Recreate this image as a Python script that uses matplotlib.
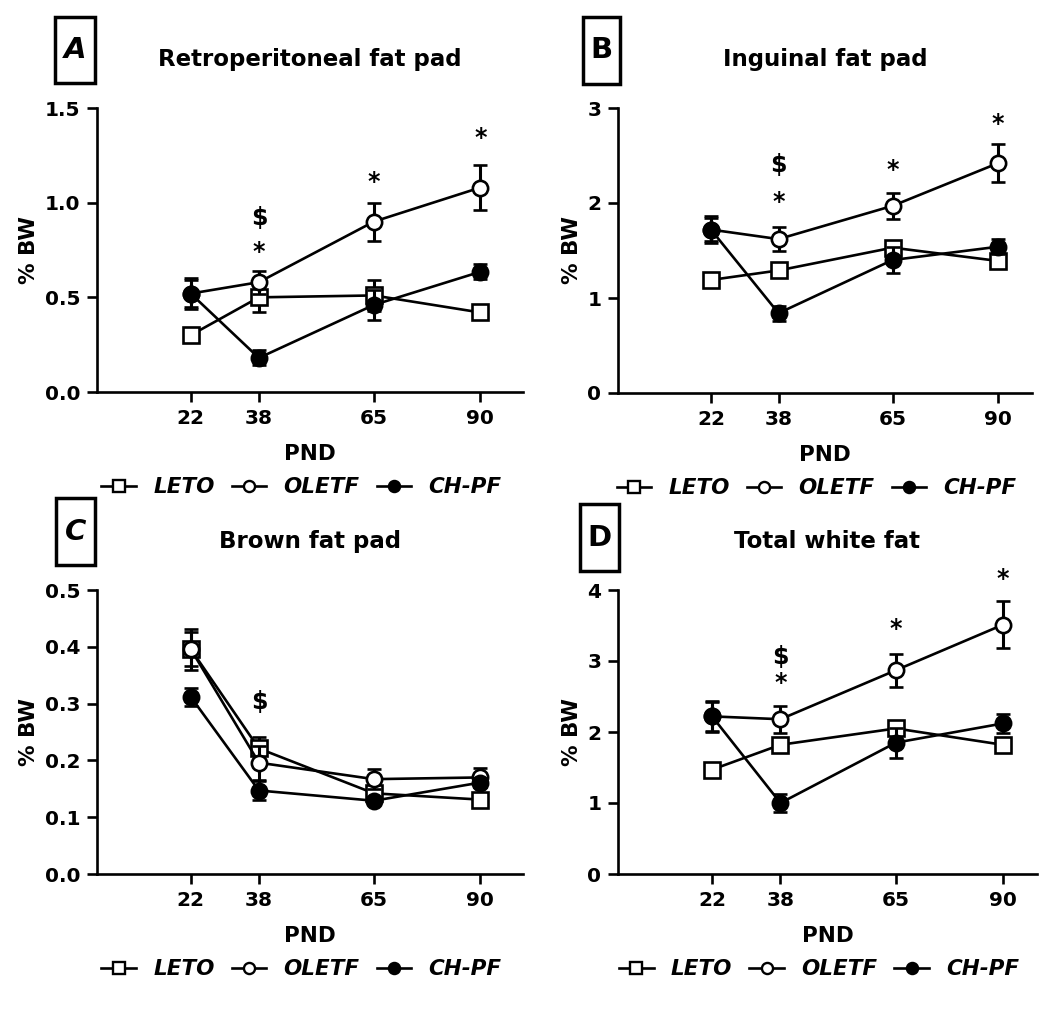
import matplotlib
matplotlib.use('Agg')
import matplotlib.pyplot as plt
from matplotlib.patches import Rectangle

plt.rcParams['font.family'] = ['DejaVu Sans']
plt.rcParams['font.weight'] = 'bold'

pnd = [22, 38, 65, 90]
groups = ['LETO', 'OLETF', 'CH-PF']

# A - retroperitoneal fat pad (% BW, mean and SEM)
retro_leto = [0.30, 0.50, 0.51, 0.42]
retro_leto_err = [0.02, 0.08, 0.08, 0.03]
retro_oletf = [0.52, 0.58, 0.90, 1.08]
retro_oletf_err = [0.07, 0.06, 0.10, 0.12]
retro_chpf = [0.52, 0.18, 0.46, 0.635]
retro_chpf_err = [0.08, 0.04, 0.08, 0.04]
retro_marks = [(38, 0.92, '$'), (38, 0.74, '*'), (65, 1.11, '*'), (90, 1.34, '*')]

# B - inguinal fat pad
ing_leto = [1.19, 1.29, 1.53, 1.39]
ing_leto_err = [0.04, 0.05, 0.05, 0.04]
ing_oletf = [1.72, 1.62, 1.97, 2.42]
ing_oletf_err = [0.12, 0.13, 0.14, 0.20]
ing_chpf = [1.72, 0.84, 1.40, 1.54]
ing_chpf_err = [0.14, 0.08, 0.14, 0.08]
ing_marks = [(38, 2.40, '$'), (38, 2.01, '*'), (65, 2.35, '*'), (90, 2.83, '*')]

# C - brown fat pad
brown_leto = [0.396, 0.221, 0.142, 0.131]
brown_leto_err = [0.036, 0.021, 0.008, 0.005]
brown_oletf = [0.396, 0.196, 0.167, 0.170]
brown_oletf_err = [0.03, 0.03, 0.017, 0.016]
brown_chpf = [0.312, 0.147, 0.129, 0.161]
brown_chpf_err = [0.016, 0.016, 0.006, 0.008]
brown_marks = [(38, 0.303, '$')]

# D - total white fat
white_leto = [1.47, 1.82, 2.05, 1.82]
white_leto_err = [0.05, 0.08, 0.07, 0.06]
white_oletf = [2.22, 2.18, 2.87, 3.51]
white_oletf_err = [0.20, 0.19, 0.23, 0.33]
white_chpf = [2.22, 1.00, 1.85, 2.12]
white_chpf_err = [0.22, 0.13, 0.21, 0.13]
white_marks = [(38, 3.06, '$'), (38, 2.69, '*'), (65, 3.45, '*'), (90, 4.16, '*')]

W, H = 1050, 1019
fig = plt.figure(figsize=(W / 100, H / 100), dpi=100)


def px(x0, y0, x1, y1):
    # pixel box -> figure fraction [left, bottom, width, height]
    return [x0 / W, 1 - y1 / H, (x1 - x0) / W, (y1 - y0) / H]


def plot_panel(rect, letter, box, title, series, errs, yticks, ylabels, xmax, marks):
    ax = fig.add_axes(px(*rect))
    styles = [dict(marker='s', mfc='white'), dict(marker='o', mfc='white'), dict(marker='o', mfc='black')]
    for i in range(len(series)):
        ax.errorbar(pnd, series[i], yerr=errs[i], color='black', lw=1.9, elinewidth=2.2,
                    capsize=5, capthick=2.2, ms=11, mec='black', mew=1.9, zorder=3 + i, **styles[i])
        ax.plot([], [], color='black', lw=1.9, ms=8, mec='black', mew=1.7,
                label=groups[i], **styles[i])
    ax.set_xlim(0, xmax)
    ax.set_ylim(yticks[0], yticks[-1])
    ax.set_xticks(pnd)
    ax.set_xticklabels([str(v) for v in pnd])
    ax.set_yticks(yticks)
    ax.set_yticklabels(ylabels)
    for s in ['top', 'right']:
        ax.spines[s].set_visible(False)
    for s in ['left', 'bottom']:
        ax.spines[s].set_linewidth(1.9)
    ax.spines['left'].set_bounds(yticks[0], yticks[-1])
    ax.tick_params(direction='out', length=7, width=1.9, labelsize=14.5, pad=5)
    ax.set_xlabel('PND', fontsize=15.5, fontweight='bold', labelpad=12)
    ax.set_ylabel('% BW', fontsize=15.5, fontweight='bold', labelpad=4)
    ax.set_title(title, fontsize=16.5, fontweight='bold', pad=30)
    for x, y, t in marks:
        ax.text(x, y, t, ha='center', va='center', fontsize=17, fontweight='bold')
    ax.legend(loc='center', bbox_to_anchor=(0.48, -0.335), ncol=3, frameon=False,
              handlelength=1.6, handletextpad=0.8, columnspacing=0.8,
              prop=dict(size=15.5, weight='bold', style='italic'))
    bx0, by0, bx1, by1 = box
    fig.patches.append(Rectangle((bx0 / W, 1 - by1 / H), (bx1 - bx0) / W, (by1 - by0) / H,
                                 transform=fig.transFigure, fill=False, lw=2.5, ec='black'))
    fig.text((bx0 + bx1) / 2 / W, 1 - (by0 + by1) / 2 / H, letter, ha='center', va='center',
             fontsize=21, fontweight='bold', style='italic' if letter in 'AC' else 'normal')
    return ax


plot_panel((97, 108, 523, 392), 'A', (55, 17, 95, 83), 'Retroperitoneal fat pad',
           [retro_leto, retro_oletf, retro_chpf], [retro_leto_err, retro_oletf_err, retro_chpf_err],
           [0.0, 0.5, 1.0, 1.5], ['0.0', '0.5', '1.0', '1.5'], 100, retro_marks)

plot_panel((618, 108, 1032, 393), 'B', (583, 17, 620, 84), 'Inguinal fat pad',
           [ing_leto, ing_oletf, ing_chpf], [ing_leto_err, ing_oletf_err, ing_chpf_err],
           [0, 1, 2, 3], ['0', '1', '2', '3'], 98, ing_marks)

plot_panel((97, 590, 523, 874), 'C', (56, 498, 95, 565), 'Brown fat pad',
           [brown_leto, brown_oletf, brown_chpf], [brown_leto_err, brown_oletf_err, brown_chpf_err],
           [0.0, 0.1, 0.2, 0.3, 0.4, 0.5], ['0.0', '0.1', '0.2', '0.3', '0.4', '0.5'], 100, brown_marks)

plot_panel((618, 590, 1037, 874), 'D', (580, 504, 619, 571), 'Total white fat',
           [white_leto, white_oletf, white_chpf], [white_leto_err, white_oletf_err, white_chpf_err],
           [0, 1, 2, 3, 4], ['0', '1', '2', '3', '4'], 98, white_marks)

fig.savefig('out.png', dpi=100)
